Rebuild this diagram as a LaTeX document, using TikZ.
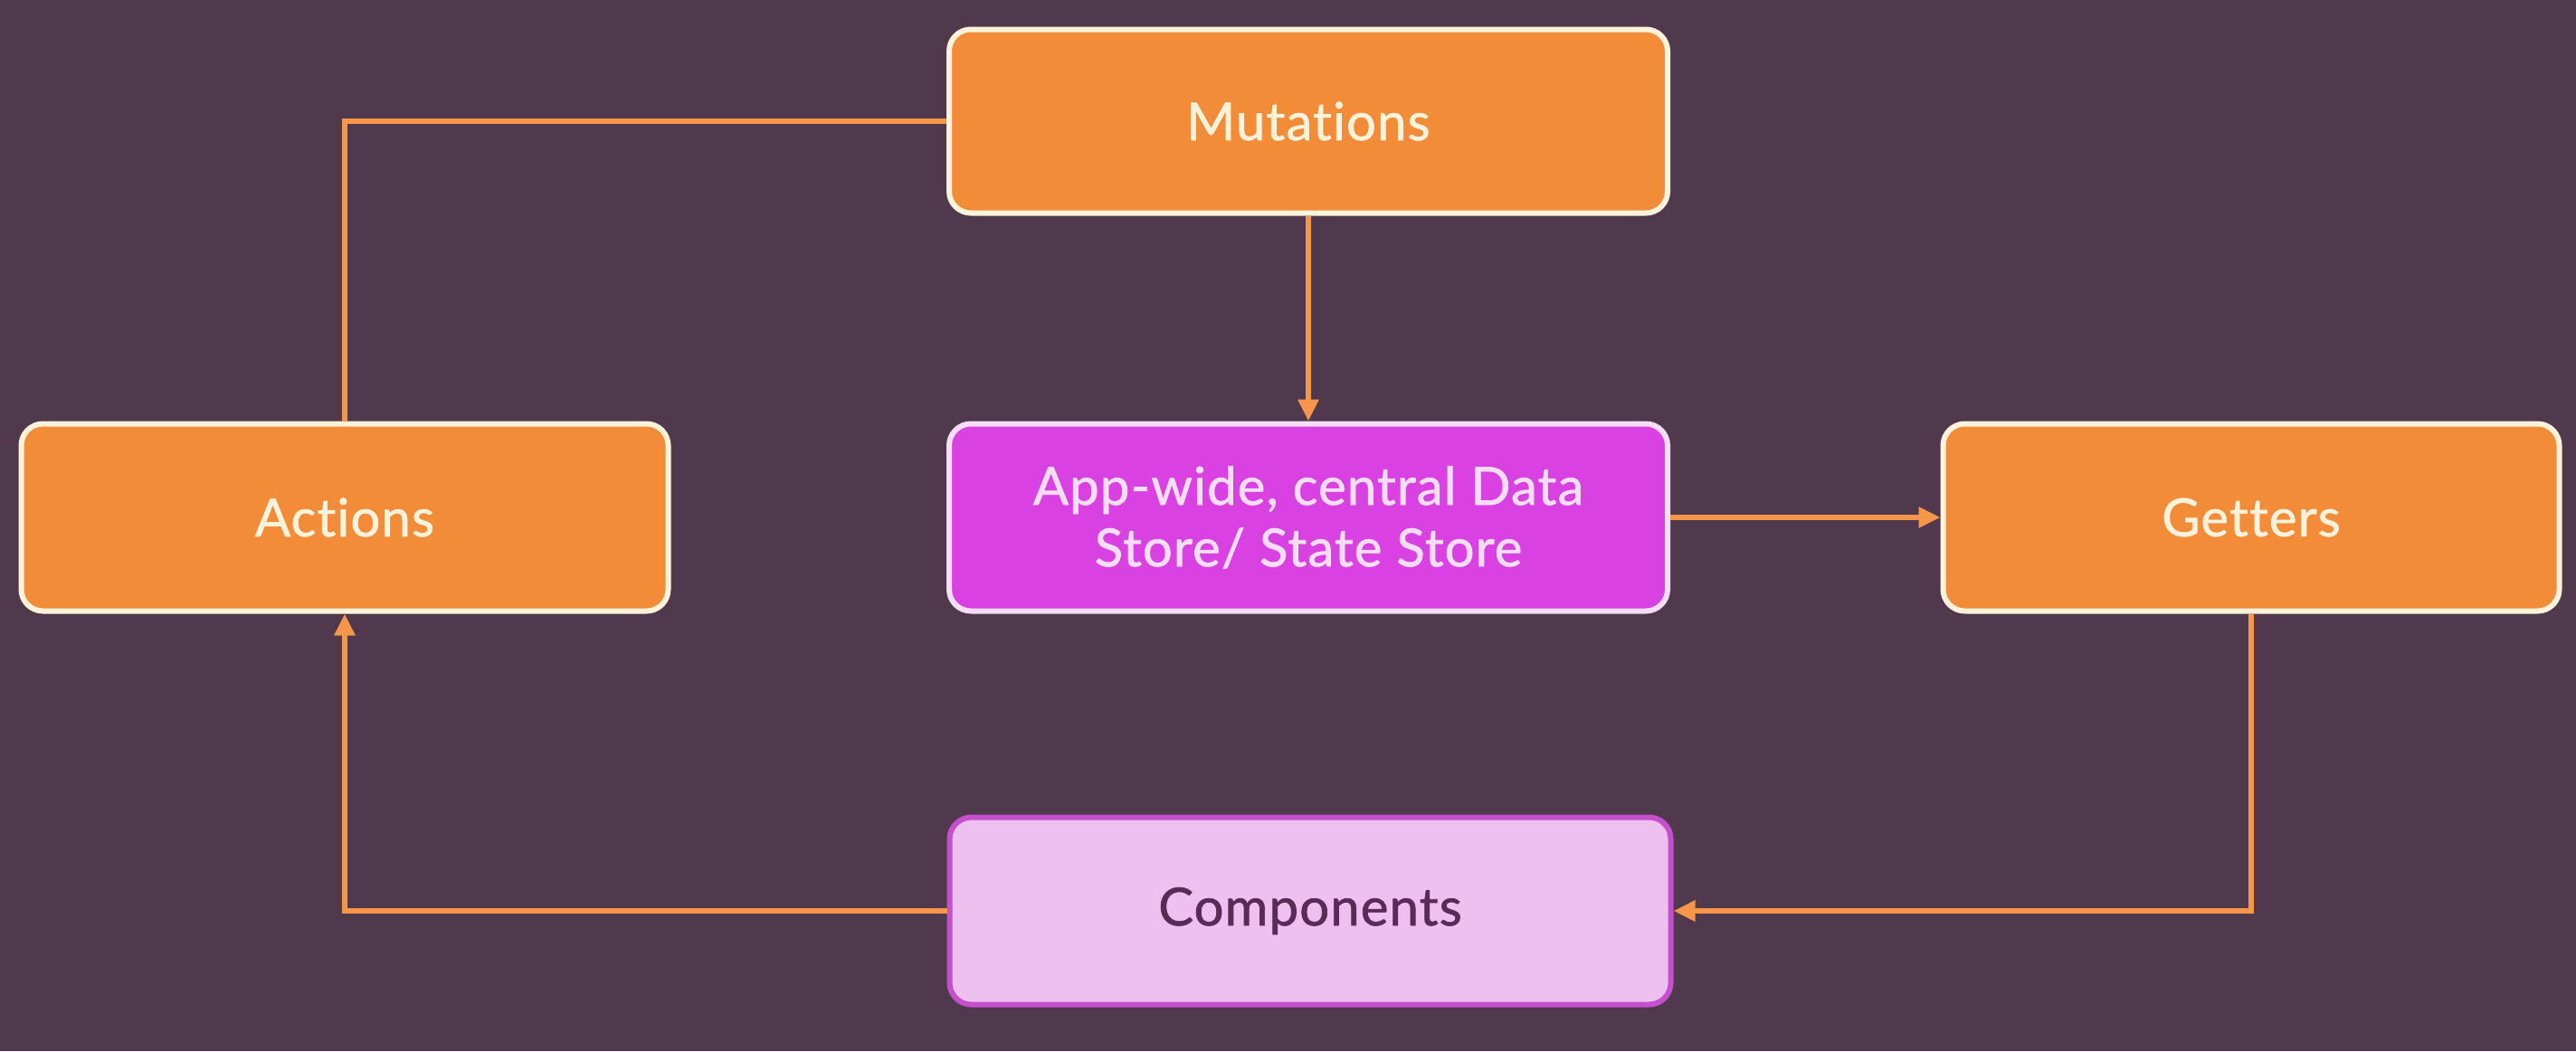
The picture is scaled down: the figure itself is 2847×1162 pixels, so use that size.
\documentclass[tikz,border=0pt]{standalone}
\usepackage{fontspec}
\setmainfont{Lato}[Ligatures=NoCommon]
\newfontfamily\lblfont{Lato}[FakeBold=1.2, Ligatures=NoCommon, LetterSpace=2]
\usetikzlibrary{arrows.meta}
\definecolor{bg}{HTML}{50384D}
\definecolor{orfill}{HTML}{F28C38}
\definecolor{orline}{HTML}{F6964A}
\definecolor{cream}{HTML}{FFF2DA}
\definecolor{magfill}{HTML}{D941E2}
\definecolor{magline}{HTML}{F6DDF6}
\definecolor{pinkfill}{HTML}{EDC0F0}
\definecolor{pinkline}{HTML}{C64FCE}
\definecolor{darktext}{HTML}{5B2B58}
\tikzset{
  box/.style={rounded corners=24pt, line width=6pt, align=center, inner sep=0pt,
    font=\lblfont\fontsize{58pt}{68pt}\selectfont},
  orbox/.style={box, fill=orfill, draw=cream, text=cream},
  storebox/.style={box, fill=magfill, draw=magline, text=magline},
  compbox/.style={box, fill=pinkfill, draw=pinkline, text=darktext},
  conn/.style={draw=orline, line width=6pt},
  arr/.style={conn, -{Triangle[length=24pt,width=22pt]}}
}
\begin{document}
\begin{tikzpicture}[x=1pt,y=-1pt]
\fill[bg] (0,0) rectangle (2847,1162);
\useasboundingbox (0,0) rectangle (2847,1162);
\node[orbox, minimum width=794pt, minimum height=203pt] (mut) at (1446,134) {Mutations};
\node[storebox, minimum width=794pt, minimum height=207pt] (store) at (1446,572) {App-wide, central Data\\Store/ State Store};
\node[orbox, minimum width=715pt, minimum height=207pt] (act) at (381,572) {Actions};
\node[orbox, minimum width=681pt, minimum height=207pt] (get) at (2488,572) {Getters};
\node[compbox, minimum width=797pt, minimum height=207pt] (comp) at (1448,1007) {Components};
\draw[conn] (mut.west) -| (act.north);
\draw[arr] (mut.south) -- (store.north);
\draw[arr] (store.east) -- (get.west);
\draw[arr] (get.south) |- (comp.east);
\draw[arr] (comp.west) -| (act.south);
\end{tikzpicture}
\end{document}
